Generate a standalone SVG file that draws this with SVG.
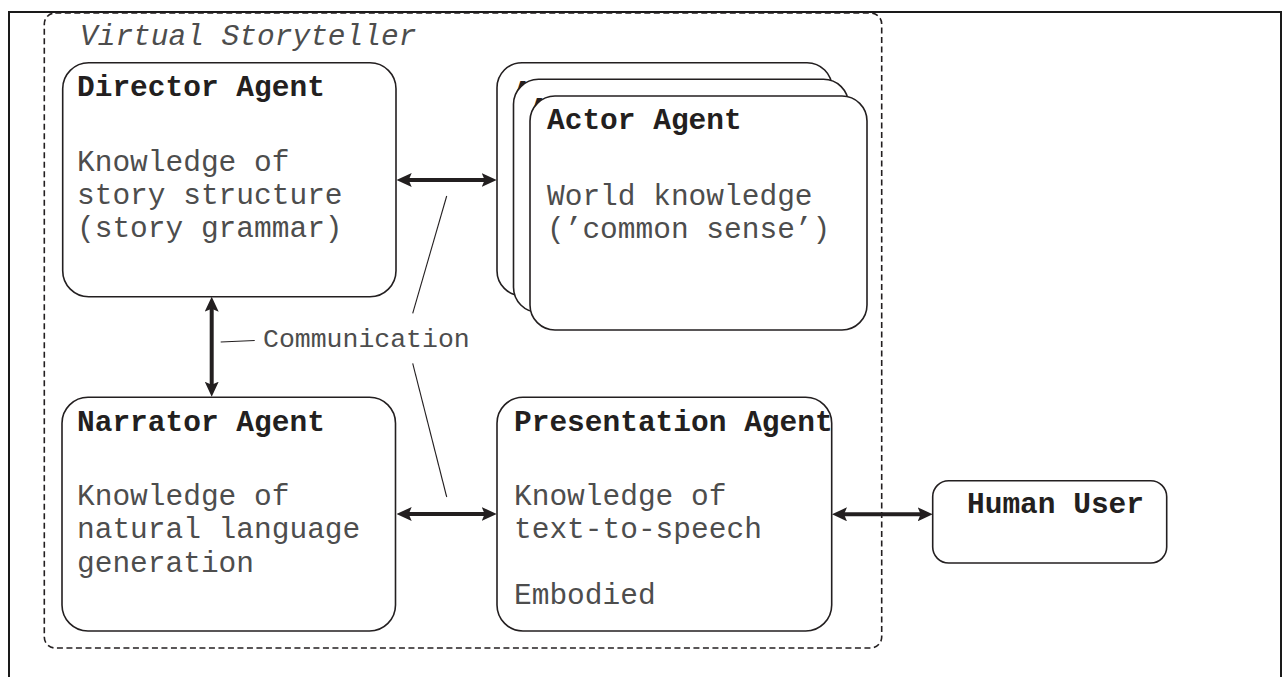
<svg xmlns="http://www.w3.org/2000/svg" width="1287" height="677" viewBox="0 0 1287 677">
  <style>
    .frame { fill: none; stroke: #1a1a1a; stroke-width: 2; }
    .group { fill: none; stroke: #231f20; stroke-width: 1.6; stroke-dasharray: 6 3.5; }
    .box { fill: #ffffff; stroke: #231f20; stroke-width: 1.6; }
    .title { font-family: "Liberation Mono", "Courier New", monospace; font-weight: bold; font-size: 29.5px; fill: #231f20; }
    .body { font-family: "Liberation Mono", "Courier New", monospace; font-size: 29.5px; fill: #4d4d4d; }
    .caption { font-family: "Liberation Mono", "Courier New", monospace; font-style: italic; font-size: 29.5px; fill: #4d4d4d; }
    .label { font-family: "Liberation Mono", "Courier New", monospace; font-size: 26.5px; fill: #4d4d4d; }
    .arrow { stroke: #231f20; stroke-width: 4; fill: none; marker-start: url(#head); marker-end: url(#head); }
    .leader { stroke: #231f20; stroke-width: 1.1; fill: none; }
  </style>
  <defs>
    <marker id="head" viewBox="0 0 15 14" refX="5" refY="7" markerWidth="15" markerHeight="14" markerUnits="userSpaceOnUse" orient="auto-start-reverse">
      <path d="M0,0 L15,7 L0,14 L3,7 Z" fill="#231f20"/>
    </marker>
  </defs>

  <rect width="1287" height="677" fill="#ffffff"/>

  <!-- outer page frame (open at the bottom) -->
  <path class="frame" d="M9,677 V12 H1281 V677"/>

  <!-- system boundary -->
  <g id="virtual-storyteller">
    <rect class="group" x="44.3" y="13" width="837.4" height="635" rx="11" ry="11"/>
    <text class="caption" x="80" y="45">Virtual Storyteller</text>
  </g>

  <g id="director-agent">
    <rect class="box" x="62.7" y="62.7" width="333.3" height="234" rx="26" ry="26"/>
    <text class="title" x="77" y="96">Director Agent</text>
    <text class="body" x="77" y="171">Knowledge of</text>
    <text class="body" x="77" y="204">story structure</text>
    <text class="body" x="77" y="237">(story grammar)</text>
  </g>

  <!-- stacked actor agents, back to front; only the corners of the rear titles show -->
  <g id="actor-agent-3">
    <rect class="box" x="497" y="62.7" width="335" height="233" rx="25" ry="25"/>
    <text class="title" x="514" y="101">Actor Agent</text>
  </g>
  <g id="actor-agent-2">
    <rect class="box" x="513.5" y="79.3" width="335" height="233" rx="25" ry="25"/>
    <text class="title" x="530.5" y="117.5">Actor Agent</text>
  </g>
  <g id="actor-agent">
    <rect class="box" x="530" y="96" width="337" height="234" rx="25" ry="25"/>
    <text class="title" x="547" y="129">Actor Agent</text>
    <text class="body" x="547" y="205">World knowledge</text>
    <text class="body" x="547" y="238">(’common sense’)</text>
  </g>

  <g id="narrator-agent">
    <rect class="box" x="62" y="397.3" width="333.5" height="233.7" rx="26" ry="26"/>
    <text class="title" x="77" y="431">Narrator Agent</text>
    <text class="body" x="77" y="505">Knowledge of</text>
    <text class="body" x="77" y="538">natural language</text>
    <text class="body" x="77" y="572">generation</text>
  </g>

  <g id="presentation-agent">
    <rect class="box" x="497" y="397.3" width="334.7" height="233.7" rx="26" ry="26"/>
    <text class="title" x="514" y="431">Presentation Agent</text>
    <text class="body" x="514" y="505">Knowledge of</text>
    <text class="body" x="514" y="538">text-to-speech</text>
    <text class="body" x="514" y="604">Embodied</text>
  </g>

  <g id="human-user">
    <rect class="box" x="932.7" y="480.7" width="234" height="82.3" rx="16" ry="16"/>
    <text class="title" x="967" y="513">Human User</text>
  </g>

  <g id="connectors">
    <line class="arrow" x1="406.7" y1="180" x2="486.7" y2="180"/>
    <line class="arrow" x1="211.7" y1="306.7" x2="211.7" y2="386.7"/>
    <line class="arrow" x1="406.7" y1="514" x2="486.7" y2="514"/>
    <line class="arrow" x1="842" y1="514.3" x2="922.7" y2="514.3"/>
    <!-- leader lines for the label -->
    <line class="leader" x1="220.7" y1="342" x2="254.7" y2="340.5"/>
    <line class="leader" x1="446.7" y1="196" x2="412.7" y2="313.3"/>
    <line class="leader" x1="412.7" y1="363.3" x2="446.7" y2="497"/>
    <text class="label" x="263" y="347">Communication</text>
  </g>
</svg>
